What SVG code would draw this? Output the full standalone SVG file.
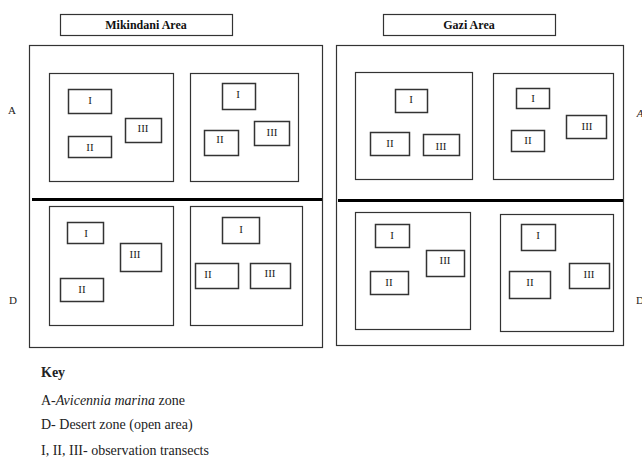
<svg xmlns="http://www.w3.org/2000/svg" width="642" height="469" viewBox="0 0 642 469">
<style>
.bx{fill:#fff;stroke:#333;stroke-width:1.2}
.sm{fill:#fff;stroke:#333;stroke-width:1.5}
.t{font-family:"Liberation Serif","DejaVu Serif","Times New Roman",serif;font-size:11px;fill:#222;text-anchor:middle}
.h{font-family:"Liberation Serif","DejaVu Serif","Times New Roman",serif;font-size:12px;font-weight:bold;fill:#111;text-anchor:middle}
.k{font-family:"Liberation Serif","DejaVu Serif","Times New Roman",serif;font-size:14px;fill:#222}
.lb{font-family:"Liberation Serif","DejaVu Serif","Times New Roman",serif;font-size:11px;fill:#222;text-anchor:middle}
.dv{stroke:#000;stroke-width:3}
</style>
<rect width="642" height="469" fill="#fff"/>
<g id="title-mikindani"><rect class="bx" x="60.5" y="14.5" width="172" height="21"/><text class="h" x="146" y="29">Mikindani Area</text></g>
<g id="title-gazi"><rect class="bx" x="383.5" y="14.5" width="172" height="21"/><text class="h" x="469" y="29">Gazi Area</text></g>
<g id="label-A-left"><text class="lb" x="12" y="114">A</text></g>
<g id="label-D-left"><text class="lb" x="13" y="304">D</text></g>
<g id="label-A-right"><text class="lb" x="640" y="117" font-style="italic">A</text></g>
<g id="label-D-right"><text class="lb" x="640" y="304">D</text></g>
<g id="mikindani">
<rect class="bx" x="29.5" y="45.5" width="293" height="302"/>
<line class="dv" x1="32" y1="199.5" x2="322" y2="199.5"/>
</g>
<g id="gazi">
<rect class="bx" x="336.5" y="45.5" width="287" height="300"/>
<line class="dv" x1="338" y1="200.5" x2="623" y2="200.5"/>
</g>
<g id="mik-A1">
<rect class="bx" x="49.5" y="73.5" width="124" height="108"/>
<rect class="sm" x="68.5" y="89.5" width="43" height="24"/><text class="t" x="90" y="104">I</text>
<rect class="sm" x="68.5" y="136.5" width="43" height="21"/><text class="t" x="90" y="151">II</text>
<rect class="sm" x="125.5" y="118.5" width="36" height="24"/><text class="t" x="143" y="132">III</text>
</g>
<g id="mik-A2">
<rect class="bx" x="190.5" y="73.5" width="108" height="108"/>
<rect class="sm" x="222.5" y="83.5" width="33" height="26"/><text class="t" x="238" y="98">I</text>
<rect class="sm" x="204.5" y="130.5" width="34" height="25"/><text class="t" x="220" y="143">II</text>
<rect class="sm" x="254.5" y="121.5" width="35" height="24"/><text class="t" x="272" y="136">III</text>
</g>
<g id="mik-D1">
<rect class="bx" x="49.5" y="206.5" width="124" height="119"/>
<rect class="sm" x="67.5" y="222.5" width="36" height="21"/><text class="t" x="86" y="237">I</text>
<rect class="sm" x="120.5" y="243.5" width="41" height="28"/><text class="t" x="135" y="258">III</text>
<rect class="sm" x="60.5" y="278.5" width="43" height="23"/><text class="t" x="82" y="293">II</text>
</g>
<g id="mik-D2">
<rect class="bx" x="190.5" y="206.5" width="112" height="119"/>
<rect class="sm" x="222.5" y="217.5" width="37" height="26"/><text class="t" x="241" y="233">I</text>
<rect class="sm" x="195.5" y="263.5" width="43" height="25"/><text class="t" x="208" y="278">II</text>
<rect class="sm" x="250.5" y="263.5" width="40" height="25"/><text class="t" x="270" y="277">III</text>
</g>
<g id="gazi-A1">
<rect class="bx" x="355.5" y="72.5" width="117" height="107"/>
<rect class="sm" x="395.5" y="89.5" width="32" height="23"/><text class="t" x="411" y="103">I</text>
<rect class="sm" x="370.5" y="132.5" width="39" height="23"/><text class="t" x="390" y="147">II</text>
<rect class="sm" x="423.5" y="134.5" width="36" height="21"/><text class="t" x="441" y="150">III</text>
</g>
<g id="gazi-A2">
<rect class="bx" x="493.5" y="73.5" width="120" height="106"/>
<rect class="sm" x="516.5" y="88.5" width="33" height="20"/><text class="t" x="533" y="102">I</text>
<rect class="sm" x="511.5" y="130.5" width="33" height="21"/><text class="t" x="528" y="144">II</text>
<rect class="sm" x="566.5" y="115.5" width="40" height="23"/><text class="t" x="587" y="130">III</text>
</g>
<g id="gazi-D1">
<rect class="bx" x="355.5" y="212.5" width="115" height="117"/>
<rect class="sm" x="375.5" y="224.5" width="34" height="23"/><text class="t" x="392" y="239">I</text>
<rect class="sm" x="370.5" y="271.5" width="38" height="23"/><text class="t" x="389" y="286">II</text>
<rect class="sm" x="426.5" y="250.5" width="38" height="26"/><text class="t" x="445" y="264">III</text>
</g>
<g id="gazi-D2">
<rect class="bx" x="500.5" y="214.5" width="113" height="117"/>
<rect class="sm" x="521.5" y="224.5" width="34" height="26"/><text class="t" x="538" y="239">I</text>
<rect class="sm" x="509.5" y="271.5" width="41" height="27"/><text class="t" x="530" y="286">II</text>
<rect class="sm" x="569.5" y="263.5" width="40" height="25"/><text class="t" x="589" y="278">III</text>
</g>
<g id="key">
<text class="k" x="41" y="377" font-weight="bold">Key</text>
<text class="k" x="41" y="405">A-<tspan font-style="italic">Avicennia marina</tspan> zone</text>
<text class="k" x="41" y="429">D- Desert zone (open area)</text>
<text class="k" x="41" y="455">I, II, III- observation transects</text>
</g>
</svg>
